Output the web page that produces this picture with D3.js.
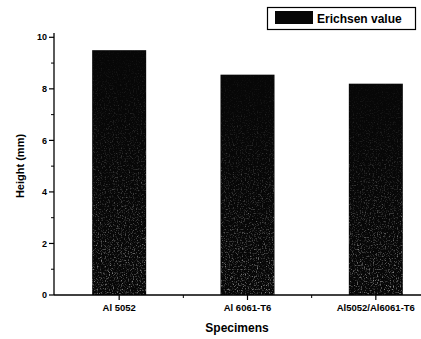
<!DOCTYPE html>
<html>
<head>
<meta charset="utf-8">
<script src="https://cdn.jsdelivr.net/npm/d3@7"></script>
<style>
  html, body { margin: 0; padding: 0; background: #fff; }
  svg { display: block; font-family: "Liberation Sans", Arial, sans-serif; }
</style>
</head>
<body>
<svg id="chart"></svg>
<script>
const specimens = ["Al 5052", "Al 6061-T6", "Al5052/Al6061-T6"];
const erichsen = [9.5, 8.55, 8.2];
const yTicks = [0, 2, 4, 6, 8, 10];
const yMinor = [1, 3, 5, 7, 9];
const xMinor = [1.5, 2.5];

const w = 421, h = 339;
const svg = d3.select("#chart").attr("width", w).attr("height", h);

const x = d3.scaleLinear().domain([0.5, 3.5]).range([55, 440]);
const y = d3.scaleLinear().domain([0, 10]).range([295, 37.3]);
const barW = 54;

// grain texture for the bars
const defs = svg.append("defs");
const f = defs.append("filter").attr("id", "grain")
  .attr("x", 0).attr("y", 0).attr("width", 1).attr("height", 1);
f.append("feTurbulence").attr("type", "fractalNoise")
  .attr("baseFrequency", 0.75).attr("numOctaves", 2).attr("seed", 4).attr("result", "n");
f.append("feColorMatrix").attr("in", "n").attr("type", "matrix")
  .attr("values", "0 0 0 0 0.42  0 0 0 0 0.42  0 0 0 0 0.42  2.6 0 0 0 -1.35")
  .attr("result", "specks");
f.append("feComposite").attr("in", "specks").attr("in2", "SourceGraphic").attr("operator", "in");

const grad = defs.append("linearGradient").attr("id", "fade")
  .attr("x1", 0).attr("y1", 0).attr("x2", 0).attr("y2", 1);
grad.append("stop").attr("offset", "0%").attr("stop-color", "#111");
grad.append("stop").attr("offset", "40%").attr("stop-color", "#555");
grad.append("stop").attr("offset", "100%").attr("stop-color", "#fff");
defs.append("mask").attr("id", "fadeMask")
  .attr("maskContentUnits", "objectBoundingBox")
  .append("rect").attr("width", 1).attr("height", 1).attr("fill", "url(#fade)");

const bars = svg.append("g");
bars.selectAll("rect.bar")
  .data(erichsen)
  .enter().append("rect")
  .attr("class", "bar")
  .attr("x", (d, i) => x(i + 1) - barW / 2)
  .attr("y", d => y(d))
  .attr("width", barW)
  .attr("height", d => y(0) - y(d))
  .attr("fill", "#070707");

bars.selectAll("rect.grain")
  .data(erichsen)
  .enter().append("rect")
  .attr("class", "grain")
  .attr("x", (d, i) => x(i + 1) - barW / 2)
  .attr("y", d => y(d))
  .attr("width", barW)
  .attr("height", d => y(0) - y(d))
  .attr("fill", "#fff")
  .attr("filter", "url(#grain)")
  .attr("mask", "url(#fadeMask)");

// y axis
const yAxis = svg.append("g").attr("transform", "translate(54,0)");
yAxis.append("line").attr("x1", 0).attr("x2", 0).attr("y1", 33).attr("y2", y(0))
  .attr("stroke", "#000").attr("stroke-width", 1.3);
yAxis.selectAll("line.maj").data(yTicks).enter().append("line")
  .attr("x1", -5).attr("x2", 0).attr("y1", d => y(d)).attr("y2", d => y(d))
  .attr("stroke", "#000").attr("stroke-width", 1.2);
yAxis.selectAll("line.min").data(yMinor).enter().append("line")
  .attr("x1", -3).attr("x2", 0).attr("y1", d => y(d)).attr("y2", d => y(d))
  .attr("stroke", "#000").attr("stroke-width", 1);
yAxis.selectAll("text").data(yTicks).enter().append("text")
  .attr("x", -7).attr("y", d => y(d)).attr("dy", "0.35em")
  .attr("text-anchor", "end").attr("font-size", 9).attr("font-weight", "bold")
  .text(d => d);

// x axis
const xAxis = svg.append("g").attr("transform", "translate(0," + y(0) + ")");
xAxis.append("line").attr("x1", 54).attr("x2", w).attr("y1", 0).attr("y2", 0)
  .attr("stroke", "#000").attr("stroke-width", 1.3);
xAxis.selectAll("line.maj").data(specimens).enter().append("line")
  .attr("x1", (d, i) => x(i + 1)).attr("x2", (d, i) => x(i + 1))
  .attr("y1", 0).attr("y2", 5).attr("stroke", "#000").attr("stroke-width", 1.2);
xAxis.selectAll("line.min").data(xMinor).enter().append("line")
  .attr("x1", d => x(d)).attr("x2", d => x(d))
  .attr("y1", 0).attr("y2", 3).attr("stroke", "#000").attr("stroke-width", 1);
xAxis.selectAll("text").data(specimens).enter().append("text")
  .attr("x", (d, i) => x(i + 1)).attr("y", 16)
  .attr("text-anchor", "middle").attr("font-size", 9.5).attr("font-weight", "bold")
  .text(d => d);

// axis titles
svg.append("text").attr("x", 237).attr("y", 332)
  .attr("text-anchor", "middle").attr("font-size", 12).attr("font-weight", "bold")
  .text("Specimens");
svg.append("text")
  .attr("transform", "translate(24,166) rotate(-90)")
  .attr("text-anchor", "middle").attr("font-size", 11).attr("font-weight", "bold")
  .text("Height (mm)");

// legend
const lg = svg.append("g");
lg.append("rect").attr("x", 267.5).attr("y", 7.5).attr("width", 148).attr("height", 22)
  .attr("fill", "#fff").attr("stroke", "#000").attr("stroke-width", 1.2);
lg.append("rect").attr("x", 275).attr("y", 11).attr("width", 38).attr("height", 13)
  .attr("fill", "#070707");
lg.append("text").attr("x", 317).attr("y", 22.5)
  .attr("font-size", 12).attr("font-weight", "bold").text("Erichsen value");
</script>
</body>
</html>
